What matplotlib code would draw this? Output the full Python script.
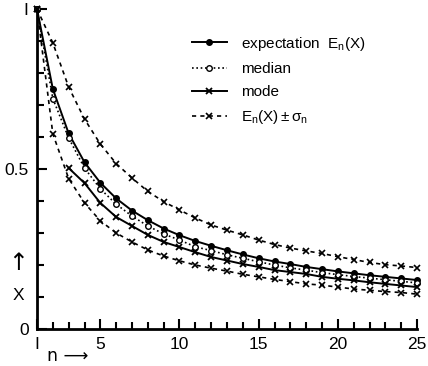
import matplotlib
matplotlib.use('Agg')
import matplotlib.pyplot as plt
import numpy as np

# values
n = np.arange(1, 26)
expectation = [1.0, 0.75, 0.611, 0.521, 0.457, 0.408, 0.370, 0.340, 0.314, 0.293,
               0.275, 0.260, 0.246, 0.233, 0.221, 0.211, 0.203, 0.194, 0.187, 0.180,
               0.174, 0.168, 0.163, 0.158, 0.153]
median = [1.0, 0.72, 0.597, 0.503, 0.438, 0.390, 0.353, 0.322, 0.297, 0.278,
          0.257, 0.245, 0.232, 0.221, 0.210, 0.200, 0.191, 0.184, 0.176, 0.170,
          0.164, 0.159, 0.154, 0.149, 0.144]
n_mode = np.arange(3, 26)
mode = [0.503, 0.456, 0.394, 0.350, 0.322, 0.294, 0.272, 0.256, 0.240, 0.225,
        0.214, 0.203, 0.194, 0.184, 0.178, 0.172, 0.163, 0.157, 0.152, 0.146,
        0.141, 0.136, 0.131]
upper = [1.0, 0.894, 0.756, 0.656, 0.578, 0.517, 0.472, 0.430, 0.398, 0.372,
         0.347, 0.325, 0.309, 0.294, 0.278, 0.264, 0.253, 0.244, 0.236, 0.226,
         0.217, 0.208, 0.201, 0.197, 0.192]
lower = [1.0, 0.610, 0.470, 0.394, 0.338, 0.300, 0.272, 0.247, 0.228, 0.213,
         0.200, 0.190, 0.181, 0.171, 0.163, 0.155, 0.148, 0.141, 0.137, 0.131,
         0.125, 0.121, 0.117, 0.114, 0.109]

plt.rcParams['font.family'] = ['Liberation Sans', 'DejaVu Sans']
plt.rcParams['mathtext.fontset'] = 'custom'
plt.rcParams['mathtext.rm'] = 'Liberation Sans'
plt.rcParams['mathtext.it'] = 'Liberation Sans'

fig = plt.figure(figsize=(4.28, 3.66), dpi=100)
ax = fig.add_axes([37 / 428, 37 / 366, 380 / 428, 320 / 366])

k = 'black'
dotted = (0, (1, 1.6))
dashed = (0, (2.5, 2.5))
ax.plot(n, expectation, color=k, lw=1.4, marker='o', ms=4, mfc=k, clip_on=False,
        label=r'expectation  $\mathrm{E_n(X)}$')
ax.plot(n, median, color=k, lw=1.2, ls=dotted, marker='o', ms=4, mfc='white',
        mew=1.0, clip_on=False, label='median')
ax.plot(n_mode, mode, color=k, lw=1.4, marker='x', ms=5, mew=1.3, clip_on=False,
        label='mode')
ax.plot(n, upper, color=k, lw=1.2, ls=dashed, marker='x', ms=5, mew=1.2,
        clip_on=False, label=r'$\mathrm{E_n(X)\pm\sigma_n}$')
ax.plot(n, lower, color=k, lw=1.2, ls=dashed, marker='x', ms=5, mew=1.2,
        clip_on=False)

ax.set_xlim(1, 25)
ax.set_ylim(0, 1)
for s in ['top', 'right']:
    ax.spines[s].set_visible(False)
for s in ['left', 'bottom']:
    ax.spines[s].set_linewidth(2)

ax.set_xticks([1, 5, 10, 15, 20, 25])
ax.set_xticklabels(['I', '5', '10', '15', '20', '25'])
ax.set_xticks(np.arange(1, 26), minor=True)
ax.set_yticks([0, 0.5, 1])
ax.set_yticklabels(['0', '0.5', 'I'])
ax.set_yticks(np.arange(0, 1.01, 0.1), minor=True)
ax.tick_params(which='both', direction='in', width=1.5, labelsize=12.5)
ax.tick_params(which='major', length=7, pad=6)
ax.tick_params(which='minor', length=5)

fig.text(18 / 428, 1 - 263 / 366, '↑', ha='center', va='center', fontsize=17,
         family=['DejaVu Sans'])
fig.text(18 / 428, 1 - 296 / 366, 'X', ha='center', va='center', fontsize=12.5)
fig.text(47 / 428, 1 - 356 / 366, 'n ⟶', ha='left', va='center', fontsize=12.5,
         family=['DejaVu Sans'])

ax.legend(loc='upper left', bbox_to_anchor=(178 / 428, 1 - 21 / 366),
          bbox_transform=fig.transFigure, frameon=False,
          fontsize=11, handlelength=2.3, labelspacing=0.6, handletextpad=0.9)

fig.savefig('out.png', dpi=100)
